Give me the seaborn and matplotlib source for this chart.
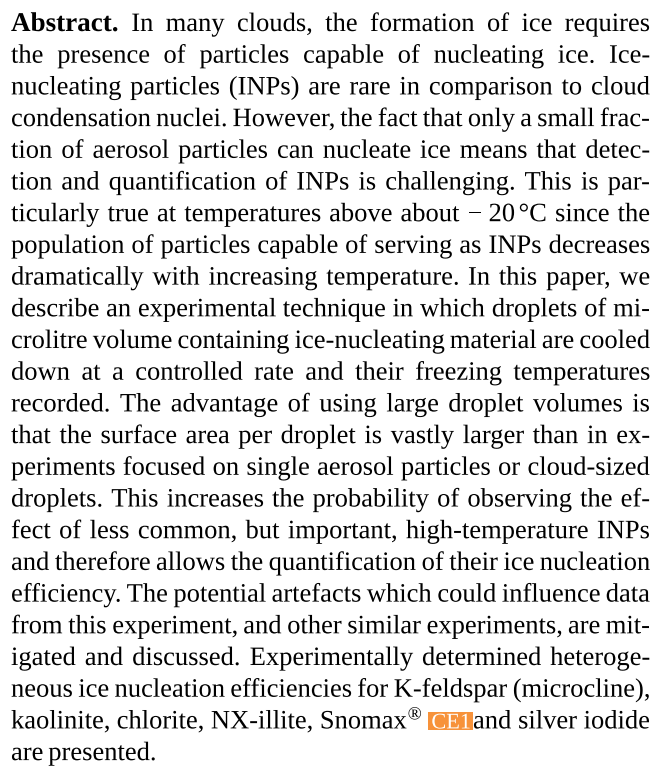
import matplotlib
matplotlib.use("Agg")
import matplotlib.pyplot as plt
from matplotlib import font_manager, patheffects
from matplotlib.patches import Rectangle
import seaborn as sns

sns.set_theme(style="white")

# pick a Times-like face if one is installed
installed = {f.name for f in font_manager.fontManager.ttflist}
serif = next((n for n in ["Liberation Serif", "Times New Roman", "Nimbus Roman",
                          "TeX Gyre Termes", "Noto Serif", "DejaVu Serif"]
              if n in installed), "serif")
plt.rcParams["font.family"] = [serif, "DejaVu Serif"]

# page geometry, in pixels
W, H = 659, 767
LEFT, RIGHT = 11, 650
FIRST_BASELINE = 31
LINE_STEP = 31.7
FONT_SIZE = 19.1
BOLD_SIZE = 19.5
BADGE_COLOR = "#f7923a"

# the abstract, one entry per printed line
# **x** = bold, a^b = superscript, [CE1] = editor badge, ~ = fixed gap
lines = [
    "**Abstract.** In many clouds, the formation of ice requires",
    "the presence of particles capable of nucleating ice. Ice-",
    "nucleating particles (INPs) are rare in comparison to cloud",
    "condensation nuclei. However, the fact that only a small frac-",
    "tion of aerosol particles can nucleate ice means that detec-",
    "tion and quantification of INPs is challenging. This is par-",
    "ticularly true at temperatures above about −~20`°C since the",
    "population of particles capable of serving as INPs decreases",
    "dramatically with increasing temperature. In this paper, we",
    "describe an experimental technique in which droplets of mi-",
    "crolitre volume containing ice-nucleating material are cooled",
    "down at a controlled rate and their freezing temperatures",
    "recorded. The advantage of using large droplet volumes is",
    "that the surface area per droplet is vastly larger than in ex-",
    "periments focused on single aerosol particles or cloud-sized",
    "droplets. This increases the probability of observing the ef-",
    "fect of less common, but important, high-temperature INPs",
    "and therefore allows the quantification of their ice nucleation",
    "efficiency. The potential artefacts which could influence data",
    "from this experiment, and other similar experiments, are mit-",
    "igated and discussed. Experimentally determined heteroge-",
    "neous ice nucleation efficiencies for K-feldspar (microcline),",
    "kaolinite, chlorite, NX-illite, Snomax^® [CE1]and silver iodide",
    "are presented.",
]


def parse(word):
    if word.startswith("**"):
        return [(word.strip("*"), "bold")]
    if "^" in word:
        a, b = word.split("^")
        return [(a, "normal"), (b, "sup")]
    if word.startswith("[CE1]"):
        return [("CE1", "badge"), (word[5:], "normal")]
    segs = []
    for part in word.replace("`", "~`").split("~"):
        if part.startswith("`"):
            segs.append((3.5, "gap"))
            part = part[1:]
        elif segs:
            segs.append((6.0, "gap"))
        segs.append((part, "normal"))
    return segs


fig = plt.figure(figsize=(W / 100, H / 100), dpi=100)
ax = fig.add_axes([0, 0, 1, 1])
ax.set_xlim(0, W)
ax.set_ylim(H, 0)
ax.axis("off")
renderer = fig.canvas.get_renderer()
# draw glyphs from outlines so every word sits on the same baseline
as_path = [patheffects.Normal()]


def seg_size(kind):
    if kind == "bold":
        return BOLD_SIZE
    return FONT_SIZE * (0.7 if kind == "sup" else 0.84 if kind == "badge" else 1)


def draw_seg(x, y, text, kind):
    """Draw one piece of a word, return its width in px."""
    if kind == "gap":
        return text
    kw = dict(fontsize=seg_size(kind), color="black", va="baseline", ha="left",
              path_effects=as_path)
    if kind == "bold":
        kw["fontweight"] = "bold"
    if kind == "sup":
        y = y - 9
        x = x + 1
    if kind == "badge":
        kw["color"] = "white"
        x = x + 3
    t = ax.text(x, y, text, **kw)
    w = t.get_window_extent(renderer).width
    if kind == "badge":
        ax.add_patch(Rectangle((x - 3, y + 1.5), w + 5, -17.5,
                               facecolor=BADGE_COLOR, edgecolor="none", zorder=1))
        t.set_zorder(2)
        return w + 5
    if kind == "sup":
        return w + 1
    return w


def measure(segs):
    total = 0
    for text, kind in segs:
        if kind == "gap":
            total += text
            continue
        t = ax.text(0, 0, text, fontsize=seg_size(kind),
                    fontweight="bold" if kind == "bold" else "normal")
        total += t.get_window_extent(renderer).width
        total += 5 if kind == "badge" else 1 if kind == "sup" else 0
        t.remove()
    return total


for i, line in enumerate(lines):
    y = FIRST_BASELINE + i * LINE_STEP
    words = [parse(w) for w in line.split(" ")]
    widths = [measure(s) for s in words]
    last = i == len(lines) - 1
    if last or len(words) == 1:
        gap = 5.0
    else:
        gap = (RIGHT - LEFT - sum(widths)) / (len(words) - 1)
    x = LEFT
    for segs, w in zip(words, widths):
        cx = x
        for text, kind in segs:
            cx += draw_seg(cx, y, text, kind)
        x += w + gap

fig.savefig("out.png", dpi=100, facecolor="white")
